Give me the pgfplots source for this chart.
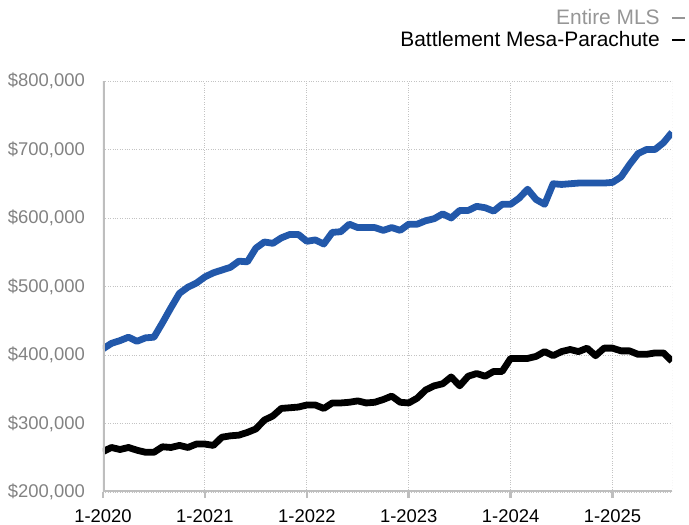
\documentclass[border=0pt]{standalone}
\usepackage{pgfplots}
\pgfplotsset{compat=1.18}
\usepackage{pgfplotstable}
\usepackage{fontspec}
\setmainfont{Liberation Sans}
\definecolor{mlsblue}{RGB}{34,88,170}
\definecolor{axisgray}{RGB}{190,190,190}
\definecolor{gridgray}{RGB}{195,195,195}
\definecolor{labelgray}{RGB}{130,130,130}
\definecolor{leggray}{RGB}{150,150,150}

\pgfplotstableread{
m v
0 409
1 417
2 421
3 426
4 420
5 425
6 426
7 447
8 469
9 490
10 499
11 505
12 514
13 520
14 524
15 528
16 537
17 536
18 556
19 565
20 563
21 571
22 576
23 576
24 566
25 568
26 562
27 579
28 580
29 591
30 586
31 586
32 586
33 582
34 586
35 582
36 591
37 591
38 596
39 599
40 606
41 600
42 611
43 611
44 617
45 615
46 610
47 620
48 620
49 629
50 642
51 627
52 620
53 650
54 649
55 650
56 651
57 651
58 651
59 651
60 652
61 660
62 678
63 694
64 700
65 700
66 710
67 725
}\mlsdata

\pgfplotstableread{
m v
0 259
1 265
2 262
3 265
4 261
5 258
6 258
7 266
8 265
9 268
10 265
11 270
12 270
13 268
14 280
15 282
16 283
17 287
18 292
19 305
20 311
21 322
22 323
23 324
24 327
25 327
26 322
27 330
28 330
29 331
30 333
31 330
32 331
33 335
34 340
35 331
36 330
37 337
38 349
39 355
40 358
41 368
42 355
43 369
44 373
45 369
46 376
47 376
48 395
49 395
50 395
51 398
52 405
53 399
54 405
55 408
56 405
57 410
58 399
59 410
60 410
61 406
62 406
63 401
64 401
65 403
66 403
67 391
}\bmpdata

\begin{document}
\begin{tikzpicture}
\path[use as bounding box] (-103bp,-33bp) rectangle (586bp,492bp);
\begin{axis}[
  name=ax, at={(0,0)}, anchor=south west,
  scale only axis, width=569bp, height=411bp,
  xmin=0, xmax=67, ymin=200, ymax=800,
  axis line style={draw=none},
  xtick={0,12,24,36,48,60},
  xticklabels={1-2020,1-2021,1-2022,1-2023,1-2024,1-2025},
  ytick={200,300,400,500,600,700,800},
  yticklabels={{\$200,000},{\$300,000},{\$400,000},{\$500,000},{\$600,000},{\$700,000},{\$800,000}},
  grid=major,
  major grid style={gridgray, dotted, line width=0.9bp},
  tick pos=left,
  tick align=outside,
  major tick length=6bp,
  xtick style={draw=axisgray, line width=2.5bp},
  ytick style={draw=none},
  tick label style={font=\fontsize{18.5}{21}\selectfont},
  xticklabel style={text=black, inner sep=0pt, anchor=north, yshift=-11bp},
  yticklabel style={text=labelgray, inner sep=0pt, anchor=east, xshift=-12bp},
]
\addplot[mlsblue, line width=6.8bp, line join=round] table[x=m, y=v] {\mlsdata};
\addplot[black, line width=6.8bp, line join=round] table[x=m, y=v] {\bmpdata};
\draw[gridgray, dotted, line width=0.9bp] (rel axis cs:1,0) -- (rel axis cs:1,1);
\draw[axisgray, line width=4bp] (rel axis cs:0,1) -- (rel axis cs:0,0) -- (rel axis cs:1,0);
\end{axis}
\node[anchor=base east, text=leggray, inner sep=0pt, font=\fontsize{21}{24}\selectfont] at (582bp,467bp) {Entire MLS\hspace{0.6em}\rule[0.3em]{0.6em}{1.3bp}};
\node[anchor=base east, text=black, inner sep=0pt, font=\fontsize{21}{24}\selectfont] at (582bp,445bp) {Battlement Mesa-Parachute\hspace{0.6em}\rule[0.3em]{0.6em}{1.3bp}};
\end{tikzpicture}
\end{document}
